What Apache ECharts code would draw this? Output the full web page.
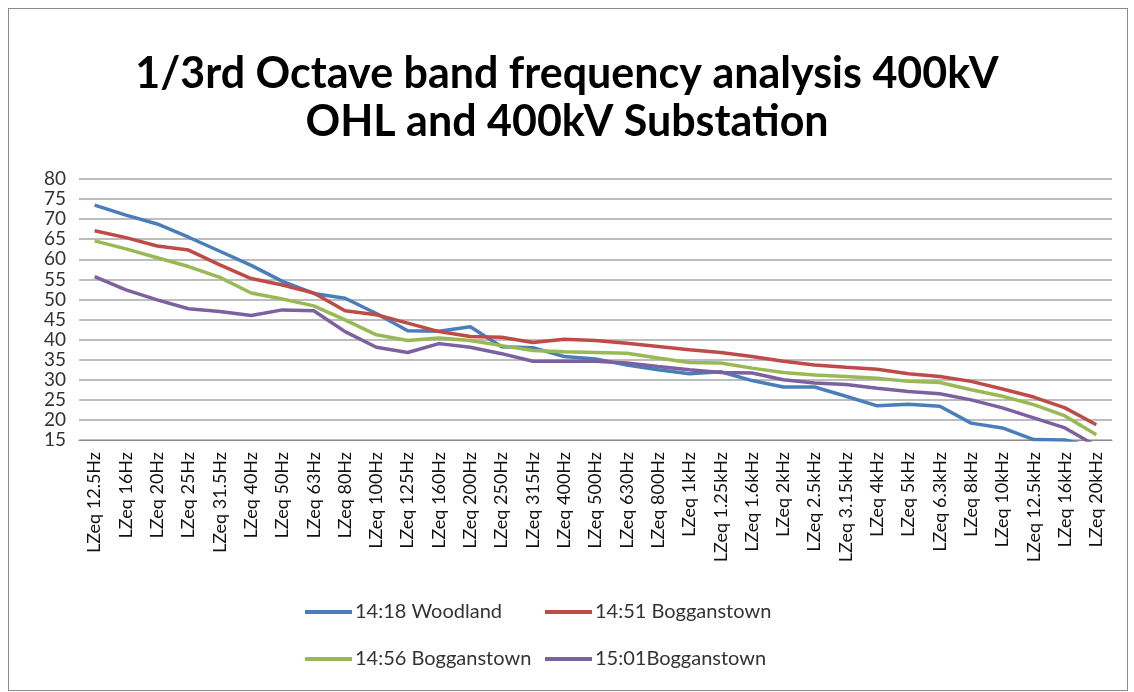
<!DOCTYPE html>
<html>
<head>
<meta charset="utf-8">
<script src="https://cdn.jsdelivr.net/npm/echarts@6/dist/echarts.min.js"></script>
<style>
    html, body { margin: 0; padding: 0; background: #fff; }
    #frame { position: absolute; left: 8px; top: 8px; width: 1118px; height: 681px; border: 1px solid #8c8c8c; }
    #chart { position: absolute; left: 0; top: 0; width: 1134px; height: 692px; }
</style>
</head>
<body>
<div id="frame"></div>
<div id="chart"></div>
<script>
// 1/3 octave bands
const bands = ['LZeq 12.5Hz', 'LZeq 16Hz', 'LZeq 20Hz', 'LZeq 25Hz', 'LZeq 31.5Hz', 'LZeq 40Hz',
    'LZeq 50Hz', 'LZeq 63Hz', 'LZeq 80Hz', 'LZeq 100Hz', 'LZeq 125Hz', 'LZeq 160Hz', 'LZeq 200Hz',
    'LZeq 250Hz', 'LZeq 315Hz', 'LZeq 400Hz', 'LZeq 500Hz', 'LZeq 630Hz', 'LZeq 800Hz', 'LZeq 1kHz',
    'LZeq 1.25kHz', 'LZeq 1.6kHz', 'LZeq 2kHz', 'LZeq 2.5kHz', 'LZeq 3.15kHz', 'LZeq 4kHz', 'LZeq 5kHz',
    'LZeq 6.3kHz', 'LZeq 8kHz', 'LZeq 10kHz', 'LZeq 12.5kHz', 'LZeq 16kHz', 'LZeq 20kHz'];

const woodland1418 = [73.5, 71, 68.8, 65.5, 62, 58.5, 54.5, 51.5, 50.3, 46.5, 42.2, 42.1, 43.2,
    38.2, 38, 35.8, 35.2, 33.7, 32.5, 31.5, 32, 29.8, 28.2, 28.2, 25.9, 23.5, 23.9, 23.4,
    19.2, 18, 15.1, 15, 13];
const boggan1451 = [67.1, 65.4, 63.3, 62.3, 58.6, 55.2, 53.6, 51.6, 47.2, 46.2, 44.1, 42, 40.8,
    40.6, 39.3, 40.1, 39.8, 39.1, 38.3, 37.5, 36.8, 35.8, 34.6, 33.7, 33.1, 32.6, 31.5, 30.8,
    29.6, 27.7, 25.7, 23, 18.8];
const boggan1456 = [64.6, 62.6, 60.4, 58.2, 55.5, 51.6, 50.1, 48.4, 44.9, 41.2, 39.8, 40.4, 39.8,
    38.5, 37.3, 37, 36.8, 36.6, 35.4, 34.3, 34.2, 32.9, 31.8, 31.2, 30.8, 30.4, 29.6, 29.3,
    27.5, 25.9, 23.8, 21, 16.3];
const boggan1501 = [55.7, 52.4, 49.9, 47.7, 47, 46, 47.4, 47.2, 42, 38.1, 36.8, 39, 38.1,
    36.5, 34.6, 34.6, 34.6, 34.2, 33.3, 32.5, 31.8, 31.7, 30, 29.2, 28.8, 27.9, 27.1, 26.5,
    25, 23, 20.5, 18, 13.5];

const seriesNames = ['14:18 Woodland', '14:51 Bogganstown', '14:56 Bogganstown', '15:01Bogganstown'];
const seriesColors = ['#4a7ebb', '#be4b48', '#98b954', '#7d60a0'];
const yTicks = { min: 15, max: 80, step: 5 };

const chart = echarts.init(document.getElementById('chart'));

const legendAt = (name, left, top) => ({
    data: [name],
    left: left,
    top: top,
    icon: 'rect',
    itemWidth: 47,
    itemHeight: 4,
    itemGap: 0,
    textStyle: { fontFamily: 'Lato', fontSize: 20, color: '#333', padding: [0, 0, 0, -2] }
});

chart.setOption({
    animation: false,
    title: {
        text: '1/3rd Octave band frequency analysis 400kV\nOHL and 400kV Substation',
        left: 'center',
        top: 45,
        textStyle: { fontFamily: 'Lato', fontWeight: 'bold', fontSize: 43, lineHeight: 48, color: '#000' }
    },
    legend: [
        legendAt(seriesNames[0], 300, 597),
        legendAt(seriesNames[1], 540, 597),
        legendAt(seriesNames[2], 300, 644),
        legendAt(seriesNames[3], 540, 644)
    ],
    grid: { left: 79, right: 22, top: 179, bottom: 252 },
    xAxis: {
        type: 'category',
        data: bands,
        boundaryGap: true,
        axisLine: { lineStyle: { color: '#8c8c8c', width: 1 } },
        axisTick: { show: false },
        axisLabel: {
            rotate: 90,
            interval: 0,
            margin: 12,
            fontFamily: 'Lato',
            fontSize: 18,
            color: '#111'
        }
    },
    yAxis: {
        type: 'value',
        min: yTicks.min,
        max: yTicks.max,
        interval: yTicks.step,
        axisLine: { show: false },
        axisTick: { show: false },
        axisLabel: { margin: 13, fontFamily: 'Lato', fontSize: 19, color: '#333' },
        splitLine: { lineStyle: { color: '#bdbdbd', width: 2 } }
    },
    series: [woodland1418, boggan1451, boggan1456, boggan1501].map((vals, i) => ({
        name: seriesNames[i],
        type: 'line',
        data: vals,
        symbol: 'none',
        clip: true,
        lineStyle: { color: seriesColors[i], width: 3.5 },
        itemStyle: { color: seriesColors[i] }
    }))
});
</script>
</body>
</html>
